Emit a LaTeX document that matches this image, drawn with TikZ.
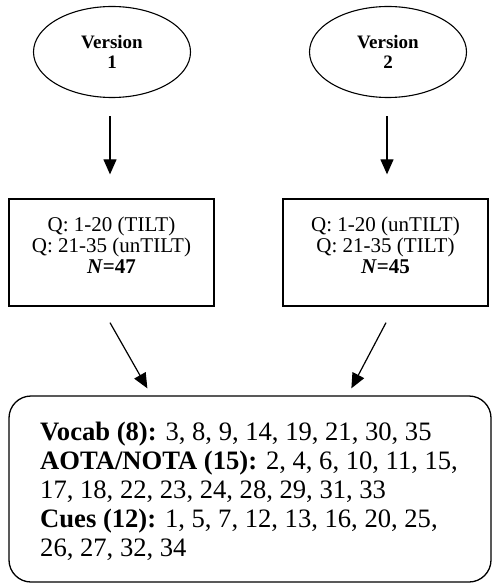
\documentclass[tikz,border=0pt]{standalone}
\usepackage{fontspec}
\setmainfont{Liberation Serif}
\usetikzlibrary{arrows.meta,calc,shapes.geometric}
\begin{document}
\begin{tikzpicture}[x=1pt,y=-1pt,
  conn/.style={line width=1.2pt,-{Triangle[length=15pt,width=13pt]}},
  vers/.style={draw,ellipse,line width=1.1pt,minimum width=157pt,minimum height=91pt,inner sep=0pt,align=center,font=\fontsize{19}{20}\selectfont\bfseries},
  cond/.style={draw,rectangle,line width=1.3pt,minimum width=205pt,minimum height=107pt,inner sep=0pt},
  condtext/.style={anchor=north,inner sep=0pt,align=center,font=\fontsize{21}{21.3}\selectfont},
  summ/.style={draw,rectangle,rounded corners=22pt,line width=1.3pt,minimum width=482pt,minimum height=186pt,inner sep=0pt},
  summtext/.style={anchor=north west,inner sep=0pt,align=left,font=\fontsize{26.6}{29}\selectfont}]
\useasboundingbox (0,0) rectangle (493,583);
\node[vers] (v1) at (112,52) {Version\\1};
\node[vers] (v2) at (388,52) {Version\\2};
\node[cond] (b1) at (111.5,252.5) {};
\node[cond] (b2) at (385.5,252.5) {};
\node[condtext] (t1) at (111.5,216.5) {Q: 1-20 (TILT)\\Q: 21-35 (unTILT)\\\textbf{\textit{N}=47}};
\node[condtext] (t2) at (385.5,216.5) {Q: 1-20 (unTILT)\\Q: 21-35 (TILT)\\\textbf{\textit{N}=45}};
\node[summ] (s) at (250,489) {};
\node[summtext] (st) at (40,421.5) {\textbf{Vocab (8):} 3, 8, 9, 14, 19, 21, 30, 35\\
\textbf{AOTA/NOTA (15):} 2, 4, 6, 10, 11, 15,\\
17, 18, 22, 23, 24, 28, 29, 31, 33\\
\textbf{Cues (12):} 1, 5, 7, 12, 13, 16, 20, 25,\\
26, 27, 32, 34};
\coordinate (a1s) at ($(v1.south)+(-2,18)$);
\coordinate (a1e) at ($(b1.north)+(-1.5,-24)$);
\coordinate (a2s) at ($(v2.south)+(-1,18)$);
\coordinate (a2e) at ($(b2.north)+(1.5,-24)$);
\coordinate (a3s) at ($(b1.south)+(-1.5,16)$);
\coordinate (a3e) at ($(s.north west)+(139,-7)$);
\coordinate (a4s) at ($(b2.south)+(0.5,16)$);
\coordinate (a4e) at ($(s.north west)+(343,-7)$);
\draw[conn] (a1s) -- (a1e);
\draw[conn] (a2s) -- (a2e);
\draw[conn] (a3s) -- (a3e);
\draw[conn] (a4s) -- (a4e);
\end{tikzpicture}
\end{document}
